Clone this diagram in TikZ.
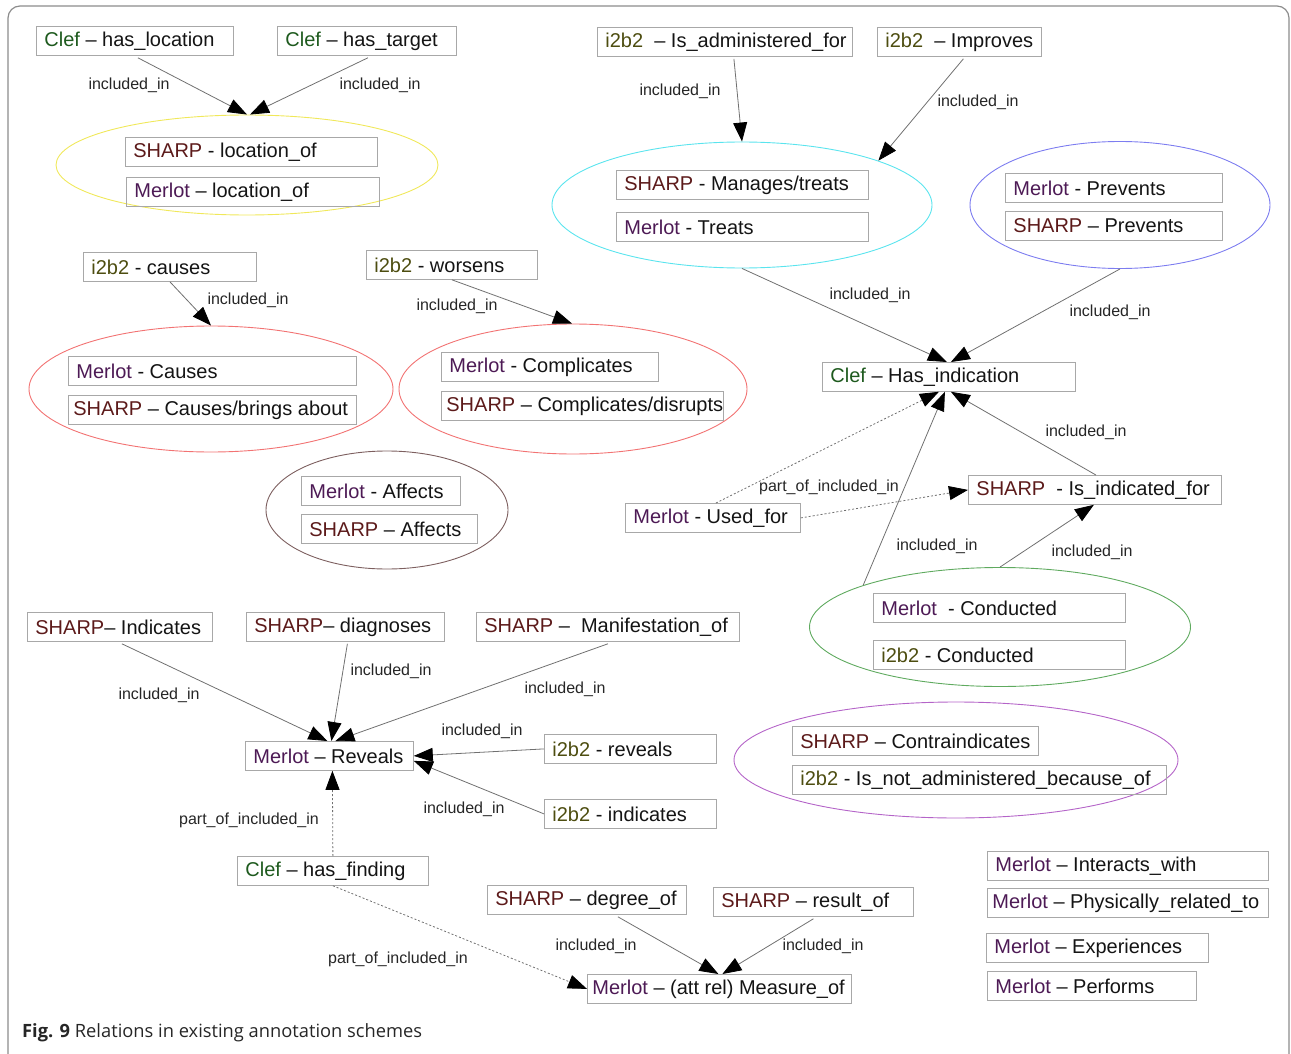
\documentclass[tikz,border=0pt]{standalone}
\usepackage{fontspec}
\setmainfont{Liberation Sans}
\newfontfamily\capfont{Open Sans}
\usetikzlibrary{shapes.geometric,arrows.meta}
\definecolor{clefc}{RGB}{30,90,30}
\definecolor{sharpc}{RGB}{92,26,26}
\definecolor{merlotc}{RGB}{77,26,85}
\definecolor{ibc}{RGB}{77,77,16}
\definecolor{boxc}{RGB}{168,168,168}
\definecolor{edgec}{RGB}{112,112,112}
\definecolor{framec}{RGB}{140,140,140}
\definecolor{yellc}{RGB}{240,232,90}
\definecolor{cyanc}{RGB}{90,228,238}
\definecolor{bluec}{RGB}{125,125,240}
\definecolor{redc}{RGB}{242,115,115}
\definecolor{brownc}{RGB}{125,95,95}
\definecolor{greenc}{RGB}{95,170,95}
\definecolor{purc}{RGB}{180,100,200}
\newcommand\Cl{\textcolor{clefc}{Clef}}
\newcommand\Sh{\textcolor{sharpc}{SHARP}}
\newcommand\Me{\textcolor{merlotc}{Merlot}}
\newcommand\Ib{\textcolor{ibc}{i2b2}}
\newcommand\tight{\hspace*{-3pt}}
\newcommand\rbox[5]{\node[rbox] (#1) at (#2,#3) {\makebox[\dimexpr#4pt-16pt\relax][l]{#5}};}
\begin{document}
\begin{tikzpicture}[x=1pt,y=-1pt,
  rbox/.style={draw=boxc, line width=0.8pt, anchor=north west, inner xsep=8pt, inner ysep=0pt,
    minimum height=29pt, font=\fontsize{20}{22}\selectfont, text=black!92},
  ell/.style={ellipse, line width=0.9pt, inner sep=0pt},
  inc/.style={draw=edgec, line width=0.8pt, -{Triangle[length=19pt,width=14pt,fill=black,color=black]}},
  poi/.style={inc, dash pattern=on 2pt off 2pt},
  elab/.style={font=\fontsize{16}{18}\selectfont, text=black!85, inner sep=0pt},
  frame/.style={draw=framec, line width=1.2pt, rounded corners=12pt}]
\useasboundingbox (0,0) rectangle (1291,1054);
\draw[frame] (8,1070) -- (8,6) -- (1289,6) -- (1289,1070);

% ellipses
\node[ell, draw=yellc, minimum width=382pt, minimum height=100pt] (yell) at (247,165) {};
\node[ell, draw=cyanc, minimum width=380pt, minimum height=126pt] (cyan) at (742,205) {};
\node[ell, draw=bluec, minimum width=300pt, minimum height=127pt] (blue) at (1120,205) {};
\node[ell, draw=redc, minimum width=364pt, minimum height=126pt] (red1) at (211,389) {};
\node[ell, draw=redc, minimum width=348pt, minimum height=130pt] (red2) at (573,389) {};
\node[ell, draw=brownc, minimum width=242pt, minimum height=118pt] (brown) at (387,510) {};
\node[ell, draw=greenc, minimum width=381pt, minimum height=119pt] (green) at (1000,627) {};
\node[ell, draw=purc, minimum width=444pt, minimum height=116pt] (purple) at (956,760) {};

% boxes
\rbox{hasloc}{36}{26}{197}{\Cl{} – has\_location}
\rbox{hastgt}{277}{26}{179}{\Cl{} – has\_target}
\rbox{sharploc}{125}{137}{252}{\Sh{} - location\_of}
\rbox{merlotloc}{126}{177}{253}{\Me{} – location\_of}
\rbox{admfor}{597}{27}{255}{\Ib{}\ \ – Is\_administered\_for}
\rbox{improves}{877}{27}{164}{\Ib{}\ \ – Improves}
\rbox{manages}{616}{170}{252}{\Sh{} - Manages/treats}
\rbox{treats}{616}{212}{252}{\Me{} - Treats}
\rbox{mprev}{1005}{173}{217}{\Me{} - Prevents}
\rbox{sprev}{1005}{211}{217}{\Sh{} – Prevents}
\rbox{hasind}{822}{362}{253}{\Cl{} – Has\_indication}
\rbox{isind}{968}{475}{253}{\Sh{}\ \ - Is\_indicated\_for}
\rbox{usedfor}{625}{503}{175}{\Me{} - Used\_for}
\rbox{mcond}{873}{593}{252}{\Me{}\ \ - Conducted}
\rbox{icond}{873}{640}{252}{\Ib{} - Conducted}
\rbox{causes}{83}{252}{173}{\Ib{} - causes}
\rbox{mcauses}{68}{356}{288}{\Me{} - Causes}
\rbox{scauses}{68}{395}{288}{\tight\Sh{} – Causes/brings about}
\rbox{worsens}{366}{250}{171}{\Ib{} - worsens}
\rbox{mcompl}{441}{352}{217}{\Me{} - Complicates}
\rbox{scompl}{441}{391}{282}{\tight\Sh{} – Complicates/disrupts}
\rbox{maff}{301}{476}{159}{\Me{} - Affects}
\rbox{saff}{301}{514}{176}{\Sh{} – Affects}
\rbox{sind}{27}{612}{185}{\Sh{}– Indicates}
\rbox{sdiag}{246}{612}{198}{\Sh{}– diagnoses}
\rbox{smanif}{476}{612}{263}{\Sh{} –\ \ Manifestation\_of}
\rbox{reveals}{245}{741}{168}{\Me{} – Reveals}
\rbox{irev}{544}{734}{172}{\Ib{} - reveals}
\rbox{iind}{544}{799}{172}{\Ib{} - indicates}
\rbox{hasfind}{237}{856}{191}{\Cl{} – has\_finding}
\rbox{sdeg}{487}{885}{199}{\Sh{} – degree\_of}
\rbox{sres}{713}{887}{200}{\Sh{} – result\_of}
\rbox{measure}{587}{974}{264}{\tight\Me{} – (att rel) Measure\_of}
\rbox{contra}{792}{726}{246}{\Sh{} – Contraindicates}
\rbox{notadm}{792}{765}{374}{\Ib{} - Is\_not\_administered\_because\_of}
\rbox{inter}{987}{851}{281}{\Me{} – Interacts\_with}
\rbox{phys}{987}{888}{281}{\tight\Me{} – Physically\_related\_to}
\rbox{exper}{986}{933}{222}{\Me{} – Experiences}
\rbox{perf}{987}{971}{209}{\Me{} – Performs}

% connectors
\draw[inc] ([xshift=3pt,yshift=-2pt]hasloc.south) -- (yell.north);
\draw[inc] ([xshift=1pt,yshift=-2pt]hastgt.south) -- ([xshift=3pt]yell.north);
\draw[inc] ([xshift=9pt,yshift=-2pt]admfor.south) -- (cyan.north);
\draw[inc] ([xshift=4pt,yshift=-2pt]improves.south) -- (cyan.18);
\draw[inc] (cyan.south) -- ([xshift=-2pt]hasind.north);
\draw[inc] (blue.south) -- ([xshift=2pt]hasind.north);
\draw[inc] ([xshift=1pt]isind.north) -- ([xshift=2pt]hasind.south);
\draw[inc] (green.163) -- ([xshift=-4pt]hasind.south);
\draw[poi] ([xshift=3pt]usedfor.north) -- ([xshift=-10pt]hasind.south);
\draw[poi] (usedfor.east) -- (isind.west);
\draw[inc] (green.north) -- ([xshift=-1pt]isind.south);
\draw[inc] (causes.south) -- (red1.north);
\draw[inc] (worsens.south) -- ([xshift=-1pt]red2.north);
\draw[inc] ([xshift=2pt,yshift=-2pt]sind.south) -- ([xshift=-2pt]reveals.north);
\draw[inc] ([xshift=2pt,yshift=-2pt]sdiag.south) -- ([xshift=2pt]reveals.north);
\draw[inc] ([yshift=-2pt]smanif.south) -- ([xshift=6pt]reveals.north);
\draw[inc] (irev.west) -- (reveals.east);
\draw[inc] (iind.west) -- ([yshift=-5pt]reveals.east);
\draw[poi] (hasfind.north) -- ([xshift=3pt]reveals.south);
\draw[poi] (hasfind.south) -- (measure.west);
\draw[inc] ([xshift=31pt,yshift=-2pt]sdeg.south) -- ([xshift=-1pt]measure.north);
\draw[inc] ([yshift=-2pt]sres.south) -- ([xshift=3pt]measure.north);

% edge labels
\node[elab] (l1) at (129,85) {included\_in};
\node[elab] (l2) at (380,85) {included\_in};
\node[elab] (l3) at (680,91) {included\_in};
\node[elab] (l4) at (978,102) {included\_in};
\node[elab] (l5) at (870,295) {included\_in};
\node[elab] (l6) at (1110,312) {included\_in};
\node[elab] (l7) at (1086,432) {included\_in};
\node[elab] (l8) at (937,546) {included\_in};
\node[elab] (l9) at (1092,552) {included\_in};
\node[elab] (l10) at (829,487) {part\_of\_included\_in};
\node[elab] (l11) at (248,300) {included\_in};
\node[elab] (l12) at (457,306) {included\_in};
\node[elab] (l13) at (159,695) {included\_in};
\node[elab] (l14) at (391,671) {included\_in};
\node[elab] (l15) at (565,689) {included\_in};
\node[elab] (l16) at (482,731) {included\_in};
\node[elab] (l17) at (464,809) {included\_in};
\node[elab] (l18) at (249,820) {part\_of\_included\_in};
\node[elab] (l19) at (398,959) {part\_of\_included\_in};
\node[elab] (l20) at (596,946) {included\_in};
\node[elab] (l21) at (823,946) {included\_in};

% caption
\node[anchor=base west, inner sep=0pt, font=\capfont\fontsize{18.3}{20}\selectfont, text=black!85] (cap) at (22,1037) {\textbf{Fig. 9} Relations in existing annotation schemes};
\end{tikzpicture}
\end{document}
